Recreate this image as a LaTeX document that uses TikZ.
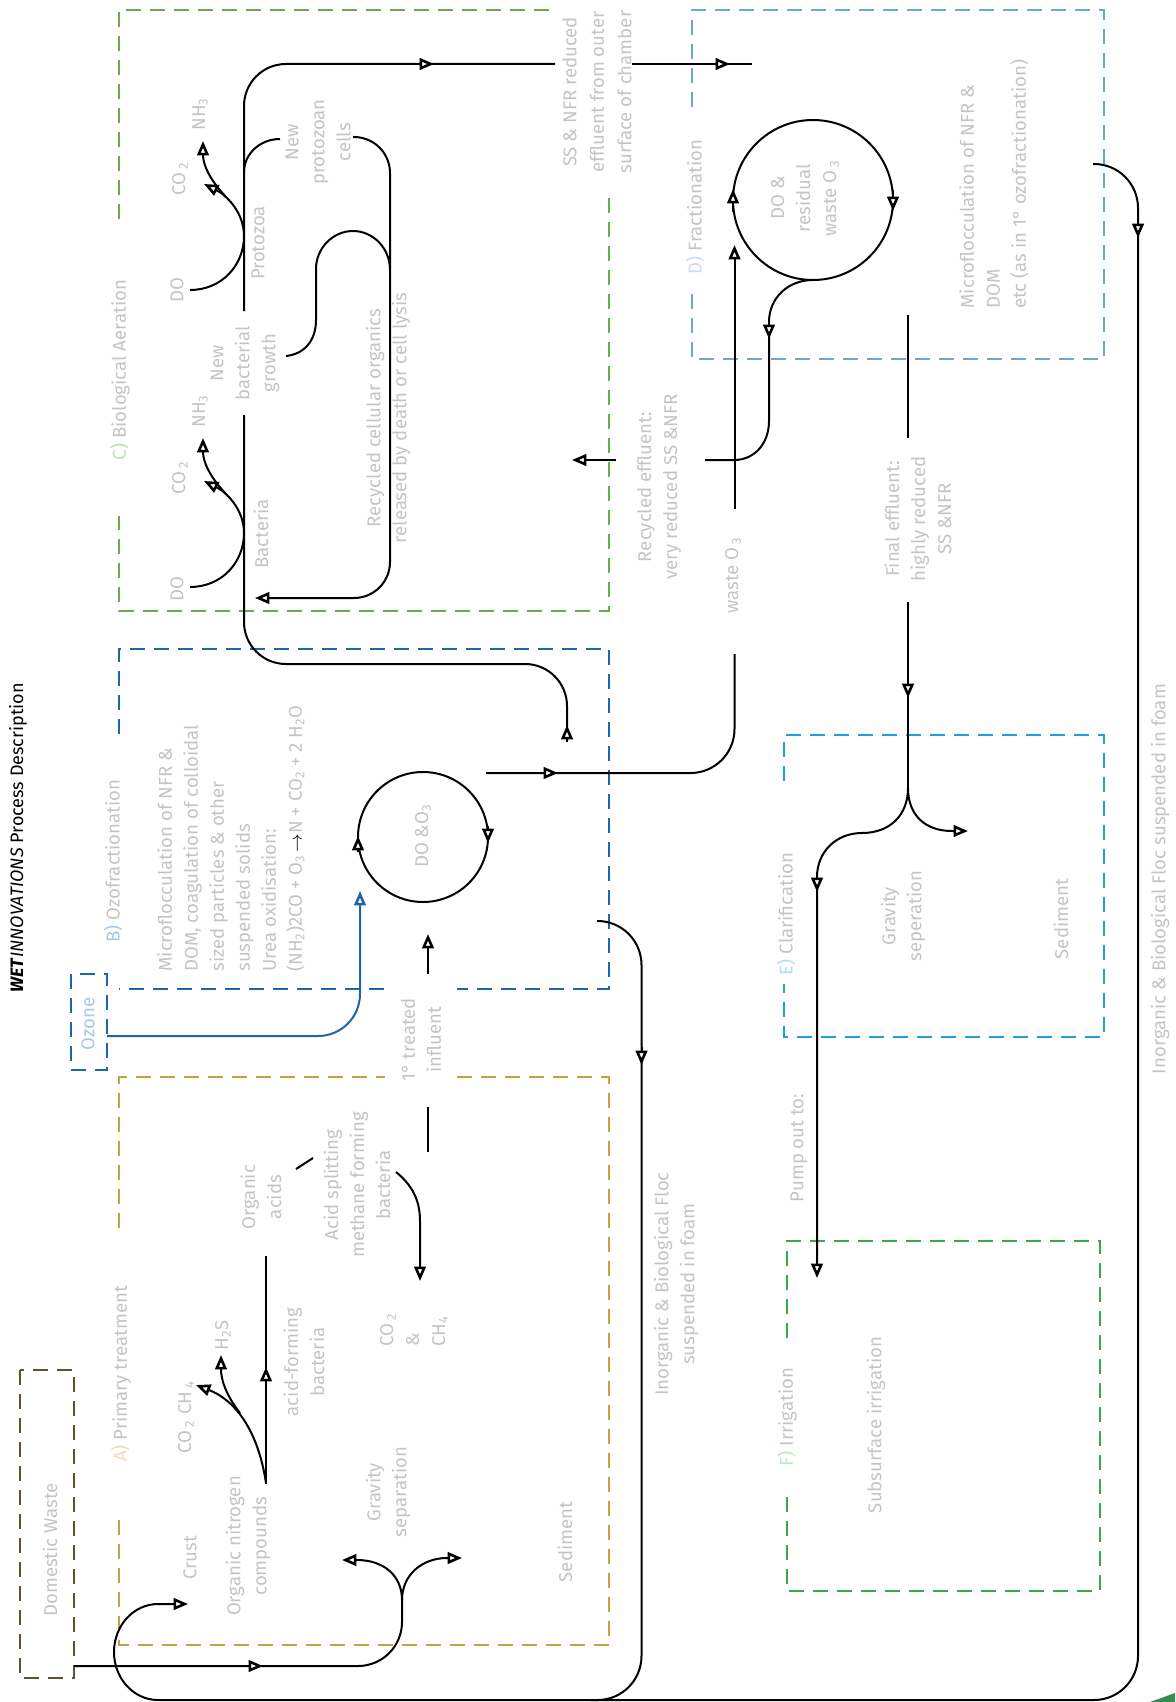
\documentclass[tikz,border=0pt]{standalone}
\usepackage{fontspec}
\setmainfont{Fira Sans}
\newfontfamily\titlefont{Fira Sans}
\usetikzlibrary{arrows.meta}
\definecolor{txtgray}{RGB}{196,196,196}
\definecolor{cgreen}{RGB}{106,170,80}
\definecolor{bblue}{RGB}{30,100,168}
\definecolor{agold}{RGB}{200,160,72}
\definecolor{dbrown}{RGB}{98,80,48}
\definecolor{dblue}{RGB}{110,166,218}
\definecolor{ecyan}{RGB}{28,160,222}
\definecolor{fgreen}{RGB}{58,170,70}
\definecolor{labC}{RGB}{190,225,180}
\definecolor{labB}{RGB}{165,200,232}
\definecolor{labD}{RGB}{200,220,240}
\definecolor{labE}{RGB}{175,225,232}
\definecolor{labF}{RGB}{190,232,195}
\definecolor{labA}{RGB}{240,220,190}
\definecolor{logogreen}{RGB}{55,140,80}
\begin{document}
\begin{tikzpicture}[x=0.5pt,y=-0.5pt,
  ln/.style={draw=black, line width=1pt},
  tp/.style={ln, -{Triangle[fill=white, length=7.2pt, width=5.8pt, line width=1.3pt]}},
  bl/.style={draw=bblue, line width=1pt},
  bltp/.style={bl, -{Triangle[fill=white, length=7.2pt, width=5.8pt, line width=1.3pt]}},
  dsh/.style={line width=1.2pt, dash pattern=on 7.5pt off 4.5pt},
  lbl/.style={text=txtgray, font=\fontsize{9.3}{13}\selectfont, rotate=90, align=center, inner sep=0pt},
  lbll/.style={lbl, align=left, anchor=west}]
\useasboundingbox (0,0) rectangle (1175,1702);

% ---------- boxes ----------
% C green
\draw[dsh, draw=cgreen] (119,219) -- (119,10) -- (555,10);
\draw[dsh, draw=cgreen] (609,198) -- (609,611) -- (119,611) -- (119,516);
% B blue
\draw[dsh, draw=bblue] (119,734) -- (119,649) -- (609,649) -- (609,989) -- (457,989);
\draw[dsh, draw=bblue] (384,989) -- (119,989);
% Ozone
\draw[dsh, draw=bblue] (71,974) rectangle (107,1070);
% A gold
\draw[dsh, draw=agold] (119,1228) -- (119,1077) -- (385,1077);
\draw[dsh, draw=agold] (457,1077) -- (609,1077) -- (609,1645) -- (119,1645) -- (119,1515);
% Domestic
\draw[dsh, draw=dbrown] (20,1370) rectangle (74,1678);
% D
\draw[dsh, draw=dblue] (692,107) -- (692,10) -- (1104,10) -- (1104,359) -- (692,359) -- (692,290);
% E
\draw[dsh, draw=ecyan] (784,781) -- (784,735) -- (1104,735) -- (1104,1037) -- (784,1037) -- (784,984);
% F
\draw[dsh, draw=fgreen] (787,1338) -- (787,1241) -- (1100,1241) -- (1100,1591) -- (787,1591) -- (787,1495);

% logo sliver
\fill[logogreen] (1150,1702) -- (1175,1693) -- (1175,1702) -- cycle;

% ---------- texts ----------
\node[rotate=90, font=\titlefont\fontsize{9}{11}\selectfont, text=black, inner sep=0pt] (title) at (18,838) {\textbf{\textit{WET}}\textit{INNOVATIONS} Process Description};

% C
\node[lbl] (labC) at (120,370) {\textcolor{labC}{C)} Biological Aeration};
\node[lbl] (do1) at (177,290) {DO};
\node[lbl] (do2) at (177,589) {DO};
\node[lbl] (co1) at (180,179) {CO\,\textsubscript{2}};
\node[lbl] (co2) at (180,478) {CO\,\textsubscript{2}};
\node[lbl] (nh1) at (200,114) {NH\textsubscript{3}};
\node[lbl] (nh2) at (200,411) {NH\textsubscript{3}};
\node[lbl] (protozoa) at (258,243) {Protozoa};
\node[lbl] (bacteria) at (261,534) {Bacteria};
\node[lbl] (newbac) at (245,363) {New\\bacterial\\growth};
\node[lbl] (newpro) at (318,142) {New\\protozoan\\cells};
\node[lbl] (recyc) at (388,418) {Recycled cellular organics\\released by death or cell lysis};
\node[lbl, font=\fontsize{9.3}{13.7}\selectfont] (ssnfr) at (597,92) {SS \& NFR reduced\\effluent from outer\\surface of chamber};

% B
\node[lbl] (labB) at (113,861) {\textcolor{labB}{B)} Ozofractionation};
\node[lbll] (bdesc) at (231,972) {Microflocculation of NFR \&\\DOM, coagulation of colloidal\\sized particles \& other\\suspended solids\\Urea oxidisation:\\(NH\textsubscript{2})2CO + O\textsubscript{3}\,{\color{black}$\rightarrow$}N + CO\textsubscript{2} + 2 H\textsubscript{2}O};
\node[lbl, text=labB] (ozone) at (88,1024) {Ozone};
\node[lbl] (doo3) at (423,836) {DO \&O\textsubscript{3}};
\node[lbl] (infl) at (421,1040) {1° treated\\influent};
\node[lbl] (floc1) at (676,1284) {Inorganic \& Biological Floc\\suspended in foam};
\node[lbl] (floc2) at (1160,879) {Inorganic \& Biological Floc suspended in foam};

% D
\node[lbl] (labD) at (695,207) {\textcolor{labD}{D)} Fractionation};
\node[lbl] (dores) at (805,198) {DO \&\\residual\\waste O\,\textsubscript{3}};
\node[lbll] (ddesc) at (994,309) {Microflocculation of NFR \&\\DOM\\etc (as in 1° ozofractionation)};
\node[lbl] (receff) at (659,487) {Recycled effluent:\\very reduced SS \&NFR};
\node[lbl] (wasteo) at (733,575) {waste O\,\textsubscript{3}};
\node[lbl] (final) at (918,519) {Final effluent:\\highly reduced\\SS \&NFR};

% E
\node[lbl] (labE) at (786,914) {\textcolor{labE}{E)} Clarification};
\node[lbl] (grav2) at (903,916) {Gravity\\seperation};
\node[lbl] (sed2) at (1061,919) {Sediment};
\node[lbl] (pump) at (799,1148) {Pump out to:};

% F
\node[lbl] (labF) at (787,1417) {\textcolor{labF}{F)} Irrigation};
\node[lbl] (subs) at (876,1425) {Subsurface irrigation};

% A
\node[lbl] (domw) at (50,1550) {Domestic Waste};
\node[lbl] (labA) at (121,1374) {\textcolor{labA}{A)} Primary treatment};
\node[lbl] (coch) at (186,1417) {CO\,\textsubscript{2} CH\,\textsubscript{4}};
\node[lbl] (hs) at (223,1335) {H\textsubscript{2}S};
\node[lbl] (orgn) at (248,1546) {Organic nitrogen\\compounds};
\node[lbl] (crust) at (190,1558) {Crust};
\node[lbl] (acidf) at (304,1362) {acid-forming\\bacteria};
\node[lbl] (orga) at (261,1197) {Organic\\acids};
\node[lbl] (acids) at (357,1185) {Acid splitting\\methane forming\\bacteria};
\node[lbll] (coch2) at (414,1347) {CO\,\textsubscript{2}\\\&\\CH\textsubscript{4}};
\node[lbl] (grav1) at (388,1492) {Gravity\\separation};
\node[lbl] (sed1) at (565,1542) {Sediment};

% ---------- connectors ----------
% main loop B -> C -> D
\draw[ln, rounded corners=21pt] (567,741) -- (567,664) -- (244,664) -- (244,415);
\draw[ln, rounded corners=21pt] (244,311) -- (244,64) -- (555,64);
\draw[ln] (632,64) -- (752,64);
\draw[tp] (567,742) -- (567,725);
\draw[tp] (415,64) -- (434,64);
\draw[tp] (711,64) -- (730,64);

% DO / CO2 / NH3 (protozoa and bacteria)
\foreach \dy in {0,297}{
  \begin{scope}[shift={(0,\dy)}]
    \draw[ln] (190,290) .. controls (222,290) and (244,265) .. (244,236);
    \draw[tp] (244,236) .. controls (244,212) and (226,195) .. (204,184);
    \draw[tp] (226,197) .. controls (210,180) and (203,165) .. (203,141);
  \end{scope}
}
% new protozoan cells
\draw[ln] (244,172) .. controls (244,154) and (260,139) .. (280,139);
\draw[tp, rounded corners=18pt] (353,137) -- (390,137) -- (390,598) -- (255,598);
% recycled organics
\draw[ln] (286,356) .. controls (305,354) and (316,340) .. (316,320) -- (316,269)
  .. controls (316,248) and (333,231) .. (353,231) .. controls (373,231) and (390,248) .. (390,270);

% D circle
\draw[ln] (813,200) circle[radius=40pt];
\draw[tp] (733,212) -- (733,189);
\draw[tp] (893,190) -- (893,211);
\draw[ln] (813,280) .. controls (788,280) and (769,298) .. (769,322) -- (769,421)
  .. controls (769,443) and (755,460) .. (734,460) -- (705,460);
\draw[tp] (769,322) -- (769,339);
\draw[tp] (616,460) -- (572,460);
% waste O3
\draw[tp] (734.5,509) -- (734.5,245);
\draw[ln, rounded corners=22pt] (486,773) -- (734.5,773) -- (734.5,654);
\draw[tp] (540,773) -- (558,773);

% B circle
\draw[ln] (423,837) circle[radius=32.5pt];
\draw[tp] (358,852) -- (358,836);
\draw[tp] (488,826) -- (488,843);
% influent
\draw[ln] (428,1152) -- (428,1107);
\draw[tp] (428,974) -- (428,934);
% ozone
\draw[bltp, rounded corners=21pt] (107,1036) -- (360,1036) -- (360,891);

% floc down from B
\draw[ln, rounded corners=22pt] (597,921) -- (641.5,921) -- (641.5,1700) -- (590,1700);
\draw[tp] (641.5,1047) -- (641.5,1065);

% big right loop
\draw[ln, rounded corners=22pt] (1093,164) -- (1138,164) -- (1138,1700) -- (158,1700);
\draw[tp] (158,1700) arc[start angle=270, end angle=90, x radius=22pt, y radius=24pt] -- (188,1604);
\draw[tp] (1138,220) -- (1138,238);

% final effluent
\draw[ln] (908,315) -- (908,438);
\draw[ln] (908,602) -- (908,790);
\draw[tp] (908,680) -- (908,698);
\draw[tp] (908,788) .. controls (908,815) and (890,833) .. (862,833)
  .. controls (836,833) and (817,852) .. (817,877) -- (817,1278);
\draw[tp] (817,875) -- (817,892);
\draw[tp] (908,788) .. controls (908,815) and (925,831) .. (952,831) -- (968,831);

% domestic waste
\draw[ln, rounded corners=22pt] (74,1666) -- (402,1666) -- (402,1597);
\draw[tp] (245,1666) -- (263,1666);
\draw[tp] (402,1600) .. controls (402,1575) and (383,1560) .. (357,1560) -- (342,1560);
\draw[tp] (402,1600) .. controls (402,1575) and (422,1558) .. (447,1558) -- (462,1558);

% organic nitrogen
\draw[ln] (266,1484) -- (266,1256);
\draw[tp] (266,1385) -- (266,1367);
\draw[tp] (266,1483) .. controls (258,1430) and (235,1400) .. (196,1385);
\draw[tp] (240,1413) .. controls (226,1395) and (221,1380) .. (221,1355);
% acids
\draw[ln] (296,1169) -- (313,1158);
\draw[tp] (396,1172) .. controls (412,1185) and (420,1200) .. (420,1221) -- (420,1281);
\end{tikzpicture}
\end{document}
